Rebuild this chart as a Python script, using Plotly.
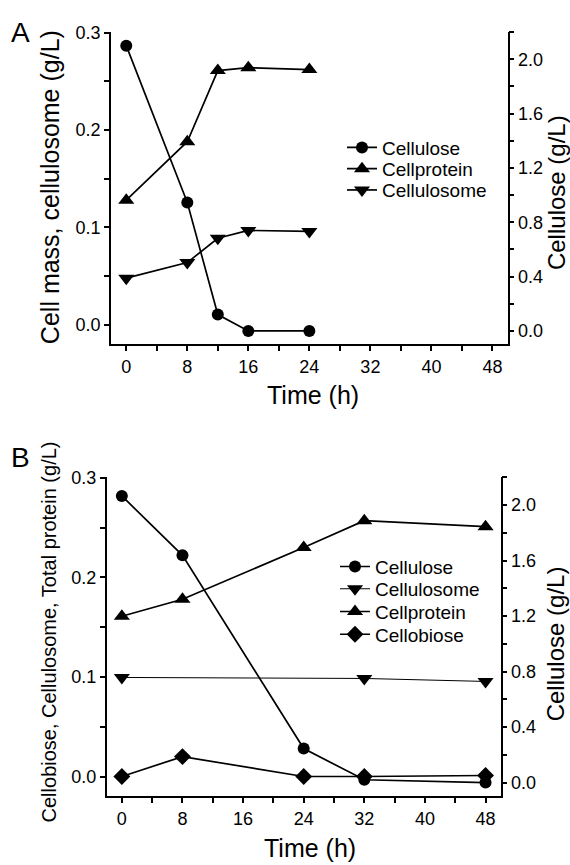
import plotly.graph_objects as go

# ---------------- Data ----------------
# Panel A
a_time_cellulose = [0, 8, 12, 16, 24]
a_cellulose = [2.10, 0.945, 0.12, 0.0, 0.0]          # right axis (g/L)
a_time = [0, 8, 12, 16, 24]
a_cellprotein = [0.128, 0.188, 0.261, 0.264, 0.262]  # left axis
a_cellulosome = [0.048, 0.064, 0.089, 0.097, 0.096]  # left axis

# Panel B
b_time = [0, 8, 24, 32, 48]
b_cellulose = [2.066, 1.638, 0.245, 0.02, 0.0]       # right axis (g/L)
b_time_cellulosome = [0, 32, 48]
b_cellulosome = [0.0995, 0.0985, 0.0955]            # left axis
b_cellprotein = [0.161, 0.178, 0.230, 0.257, 0.251]  # left axis
b_cellobiose = [0.0, 0.020, 0.0, 0.0, 0.001]        # left axis

x_ticks = [0, 8, 16, 24, 32, 40, 48]

W, H = 570, 865
FONT = "Arial, Liberation Sans, sans-serif"
BLACK = "black"

def px_x(p):
    return p / W

def px_y(p):
    return 1 - p / H

fig = go.Figure()

line = dict(color=BLACK, width=1.7)

# ---- Panel A traces ----
fig.add_trace(go.Scatter(x=a_time_cellulose, y=a_cellulose, name="Cellulose",
                         mode="lines+markers", line=line,
                         marker=dict(symbol="circle", size=12, color=BLACK),
                         xaxis="x", yaxis="y2", legend="legend"))
fig.add_trace(go.Scatter(x=a_time, y=a_cellprotein, name="Cellprotein",
                         mode="lines+markers", line=line,
                         marker=dict(symbol="triangle-up", size=14, color=BLACK),
                         xaxis="x", yaxis="y", legend="legend2"))
fig.add_trace(go.Scatter(x=a_time, y=a_cellulosome, name="Cellulosome",
                         mode="lines+markers", line=line,
                         marker=dict(symbol="triangle-down", size=14, color=BLACK),
                         xaxis="x", yaxis="y", legend="legend3"))

# ---- Panel B traces ----
fig.add_trace(go.Scatter(x=b_time, y=b_cellulose, name="Cellulose",
                         mode="lines+markers", line=line,
                         marker=dict(symbol="circle", size=12, color=BLACK),
                         xaxis="x2", yaxis="y4", legend="legend4"))
fig.add_trace(go.Scatter(x=b_time_cellulosome, y=b_cellulosome, name="Cellulosome",
                         mode="lines+markers", line=dict(color=BLACK, width=1),
                         marker=dict(symbol="triangle-down", size=14, color=BLACK),
                         xaxis="x2", yaxis="y3", legend="legend5"))
fig.add_trace(go.Scatter(x=b_time, y=b_cellprotein, name="Cellprotein",
                         mode="lines+markers", line=line,
                         marker=dict(symbol="triangle-up", size=14, color=BLACK),
                         xaxis="x2", yaxis="y3", legend="legend6"))
fig.add_trace(go.Scatter(x=b_time, y=b_cellobiose, name="Cellobiose",
                         mode="lines+markers", line=line,
                         marker=dict(symbol="diamond", size=13, color=BLACK),
                         xaxis="x2", yaxis="y3", legend="legend7"))

tickfont = dict(family=FONT, size=18, color=BLACK)
common = dict(showgrid=False, zeroline=False, showline=True, linecolor=BLACK,
              linewidth=1.5, tickcolor=BLACK, tickwidth=1.5, ticklen=5,
              tickfont=tickfont)

xA = [px_x(111), px_x(507.7)]
yA = [px_y(339), px_y(23.3)]
xB = [px_x(106.7), px_x(500.7)]
yB = [px_y(795.7), px_y(473.3)]

xcommon = dict(range=[-2, 50], tickmode="array", tickvals=x_ticks,
               minor=dict(dtick=4, tick0=0, ticks="outside", ticklen=5,
                          tickwidth=1.5, tickcolor=BLACK, showgrid=False))
ycommonL = dict(range=[-0.02, 0.3005], tick0=0, dtick=0.1, tickformat=".1f",
                ticks="outside",
                minor=dict(dtick=0.05, tick0=0, ticks="outside", ticklen=5,
                           tickwidth=1.5, tickcolor=BLACK, showgrid=False))
ycommonR = dict(range=[-0.1, 2.2], tick0=0, dtick=0.4, tickformat=".1f",
                ticks="outside", side="right",
                minor=dict(dtick=0.2, tick0=0, ticks="outside", ticklen=5,
                           tickwidth=1.5, tickcolor=BLACK, showgrid=False))

top_minor = dict(dtick=4, tick0=0, ticks="inside", ticklen=5, tickwidth=1.5,
                 tickcolor=BLACK, showgrid=False)

def leg(xpx, ypx):
    return dict(x=px_x(xpx), y=px_y(ypx), xanchor="left", yanchor="middle",
                bgcolor="rgba(0,0,0,0)", font=dict(family=FONT, size=19, color=BLACK),
                tracegroupgap=0, borderwidth=0)

LA_X = 342
LB_X = 335

fig.update_layout(
    width=W, height=H,
    margin=dict(l=0, r=0, t=0, b=0),
    paper_bgcolor="white", plot_bgcolor="white",
    font=dict(family=FONT, color=BLACK),
    xaxis=dict(domain=xA, anchor="y", ticks="outside", **xcommon, **common),
    xaxis3=dict(domain=xA, anchor="y", overlaying="x", side="top",
                range=[-2, 50], tickmode="array", tickvals=x_ticks,
                ticks="inside", showticklabels=False, minor=top_minor, **common),
    yaxis=dict(domain=yA, anchor="x", **ycommonL, **common),
    yaxis2=dict(domain=yA, anchor="x", overlaying="y", **ycommonR, **common),
    xaxis2=dict(domain=xB, anchor="y3", ticks="outside", **xcommon, **common),
    xaxis4=dict(domain=xB, anchor="y3", overlaying="x2", side="top",
                range=[-2, 50], tickmode="array", tickvals=x_ticks,
                ticks="inside", showticklabels=False, minor=top_minor, **common),
    yaxis3=dict(domain=yB, anchor="x2", **ycommonL, **common),
    yaxis4=dict(domain=yB, anchor="x2", overlaying="y3", **ycommonR, **common),
    legend=leg(LA_X, 140),
    legend2=leg(LA_X, 161.5),
    legend3=leg(LA_X, 183),
    legend4=leg(LB_X, 563.5),
    legend5=leg(LB_X, 586),
    legend6=leg(LB_X, 609),
    legend7=leg(LB_X, 632),
    showlegend=True,
)

ann = [
    dict(text="A", x=px_x(20), y=px_y(24), font=dict(size=28)),
    dict(text="B", x=px_x(21), y=px_y(453), font=dict(size=28)),
    dict(text="Cell mass, cellulosome (g/L)", x=px_x(50), y=px_y(180),
         textangle=-90, font=dict(size=25)),
    dict(text="Cellulose (g/L)", x=px_x(556), y=px_y(186),
         textangle=-90, font=dict(size=24)),
    dict(text="Time (h)", x=px_x(313), y=px_y(390), font=dict(size=25)),
    dict(text="Cellobiose, Cellulosome, Total protein (g/L)", x=px_x(49), y=px_y(630),
         textangle=-90, font=dict(size=20)),
    dict(text="Cellulose (g/L)", x=px_x(555), y=px_y(642),
         textangle=-90, font=dict(size=24)),
    dict(text="Time (h)", x=px_x(310), y=px_y(848), font=dict(size=25)),
]
for a in ann:
    a.update(xref="paper", yref="paper", showarrow=False,
             xanchor="center", yanchor="middle")
    a["font"].update(family=FONT, color=BLACK)
fig.update_layout(annotations=ann)

fig.write_html("out.html", config={"displayModeBar": False},
               post_script="document.body.style.margin='0';document.body.style.padding='0';")
